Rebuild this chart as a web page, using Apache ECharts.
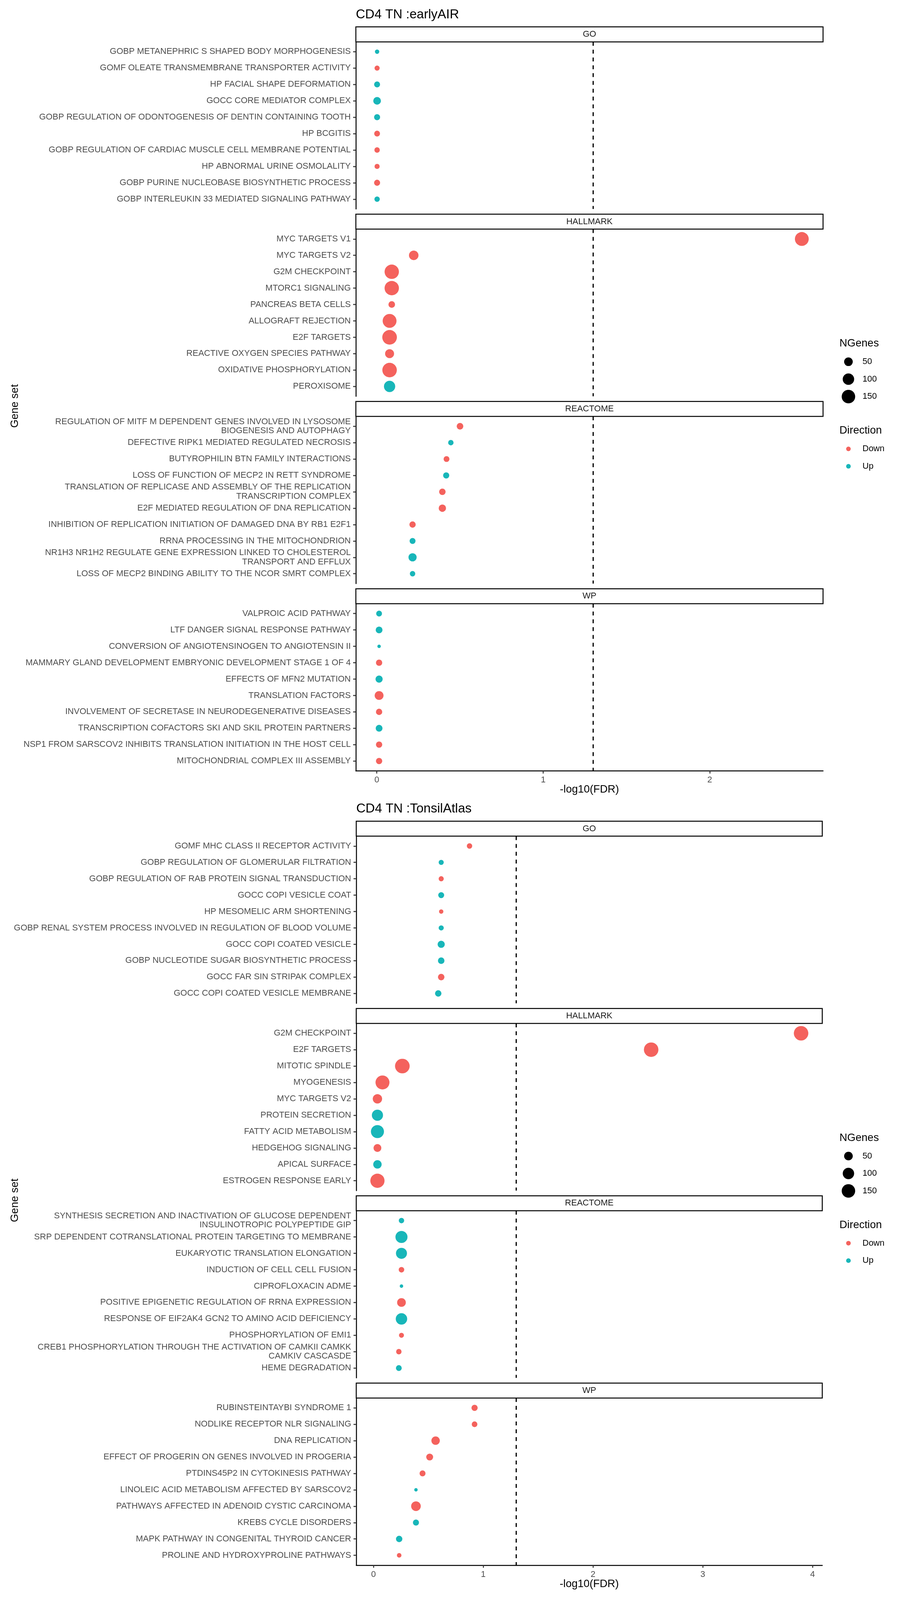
<!DOCTYPE html>
<html>
<head>
<meta charset="utf-8">
<script src="https://cdn.jsdelivr.net/npm/echarts@6/dist/echarts.min.js"></script>
<style>html,body{margin:0;padding:0;background:#fff;overflow:hidden}#c{width:100vw;height:100vh}</style>
</head>
<body>
<div id="c"></div>
<script>
// ---------------- DATA ----------------
const earlyTitle = 'CD4 TN :earlyAIR';
const tonsilTitle = 'CD4 TN :TonsilAtlas';
const panelNames = ['GO', 'HALLMARK', 'REACTOME', 'WP'];
const earlyTicks = [0, 1, 2];
const tonsilTicks = [0, 1, 2, 3, 4];
const sizeBreaks = [50, 100, 150];
const directions = ['Down', 'Up'];
const thresholdX = 1.30103; // -log10(0.05)

// earlyAIR - GO
const earlyGO_sets = ['GOBP METANEPHRIC S SHAPED BODY MORPHOGENESIS','GOMF OLEATE TRANSMEMBRANE TRANSPORTER ACTIVITY','HP FACIAL SHAPE DEFORMATION','GOCC CORE MEDIATOR COMPLEX','GOBP REGULATION OF ODONTOGENESIS OF DENTIN CONTAINING TOOTH','HP BCGITIS','GOBP REGULATION OF CARDIAC MUSCLE CELL MEMBRANE POTENTIAL','HP ABNORMAL URINE OSMOLALITY','GOBP PURINE NUCLEOBASE BIOSYNTHETIC PROCESS','GOBP INTERLEUKIN 33 MEDIATED SIGNALING PATHWAY'];
const earlyGO_fdr = [0.002,0.002,0.002,0.002,0.002,0.002,0.002,0.002,0.002,0.002];
const earlyGO_n = [9,13,19,37,20,18,15,13,20,15];
const earlyGO_dir = ['Up','Down','Up','Up','Up','Down','Down','Down','Down','Up'];
// earlyAIR - HALLMARK
const earlyHM_sets = ['MYC TARGETS V1','MYC TARGETS V2','G2M CHECKPOINT','MTORC1 SIGNALING','PANCREAS BETA CELLS','ALLOGRAFT REJECTION','E2F TARGETS','REACTIVE OXYGEN SPECIES PATHWAY','OXIDATIVE PHOSPHORYLATION','PEROXISOME'];
const earlyHM_fdr = [2.553,0.222,0.090,0.090,0.090,0.077,0.077,0.077,0.077,0.077];
const earlyHM_n = [160,64,174,174,25,160,182,55,178,97];
const earlyHM_dir = ['Down','Down','Down','Down','Down','Down','Down','Down','Down','Up'];
// earlyAIR - REACTOME
const earlyRE_sets = ['REGULATION OF MITF M DEPENDENT GENES INVOLVED IN LYSOSOME\nBIOGENESIS AND AUTOPHAGY','DEFECTIVE RIPK1 MEDIATED REGULATED NECROSIS','BUTYROPHILIN BTN FAMILY INTERACTIONS','LOSS OF FUNCTION OF MECP2 IN RETT SYNDROME','TRANSLATION OF REPLICASE AND ASSEMBLY OF THE REPLICATION\nTRANSCRIPTION COMPLEX','E2F MEDIATED REGULATION OF DNA REPLICATION','INHIBITION OF REPLICATION INITIATION OF DAMAGED DNA BY RB1 E2F1','RRNA PROCESSING IN THE MITOCHONDRION','NR1H3 NR1H2 REGULATE GENE EXPRESSION LINKED TO CHOLESTEROL\nTRANSPORT AND EFFLUX','LOSS OF MECP2 BINDING ABILITY TO THE NCOR SMRT COMPLEX'];
const earlyRE_fdr = [0.500,0.445,0.419,0.417,0.394,0.394,0.215,0.215,0.215,0.215];
const earlyRE_n = [25,15,18,21,24,33,22,19,44,15];
const earlyRE_dir = ['Down','Up','Down','Up','Down','Down','Down','Up','Up','Up'];
// earlyAIR - WP
const earlyWP_sets = ['VALPROIC ACID PATHWAY','LTF DANGER SIGNAL RESPONSE PATHWAY','CONVERSION OF ANGIOTENSINOGEN TO ANGIOTENSIN II','MAMMARY GLAND DEVELOPMENT EMBRYONIC DEVELOPMENT STAGE 1 OF 4','EFFECTS OF MFN2 MUTATION','TRANSLATION FACTORS','INVOLVEMENT OF SECRETASE IN NEURODEGENERATIVE DISEASES','TRANSCRIPTION COFACTORS SKI AND SKIL PROTEIN PARTNERS','NSP1 FROM SARSCOV2 INHIBITS TRANSLATION INITIATION IN THE HOST CELL','MITOCHONDRIAL COMPLEX III ASSEMBLY'];
const earlyWP_fdr = [0.014,0.014,0.014,0.014,0.014,0.014,0.014,0.014,0.014,0.014];
const earlyWP_n = [18,27,6,22,31,53,22,27,22,22];
const earlyWP_dir = ['Up','Up','Up','Down','Up','Down','Down','Up','Down','Down'];

// TonsilAtlas - GO
const tonsilGO_sets = ['GOMF MHC CLASS II RECEPTOR ACTIVITY','GOBP REGULATION OF GLOMERULAR FILTRATION','GOBP REGULATION OF RAB PROTEIN SIGNAL TRANSDUCTION','GOCC COPI VESICLE COAT','HP MESOMELIC ARM SHORTENING','GOBP RENAL SYSTEM PROCESS INVOLVED IN REGULATION OF BLOOD VOLUME','GOCC COPI COATED VESICLE','GOBP NUCLEOTIDE SUGAR BIOSYNTHETIC PROCESS','GOCC FAR SIN STRIPAK COMPLEX','GOCC COPI COATED VESICLE MEMBRANE'];
const tonsilGO_fdr = [0.875,0.617,0.617,0.617,0.617,0.617,0.617,0.617,0.617,0.590];
const tonsilGO_n = [15,13,13,19,9,13,31,24,24,23];
const tonsilGO_dir = ['Down','Up','Down','Up','Down','Up','Up','Up','Down','Up'];
// TonsilAtlas - HALLMARK
const tonsilHM_sets = ['G2M CHECKPOINT','E2F TARGETS','MITOTIC SPINDLE','MYOGENESIS','MYC TARGETS V2','PROTEIN SECRETION','FATTY ACID METABOLISM','HEDGEHOG SIGNALING','APICAL SURFACE','ESTROGEN RESPONSE EARLY'];
const tonsilHM_fdr = [3.896,2.53,0.263,0.082,0.036,0.036,0.036,0.036,0.036,0.036];
const tonsilHM_n = [178,178,182,163,61,95,139,39,47,170];
const tonsilHM_dir = ['Down','Down','Down','Down','Down','Up','Up','Down','Up','Down'];
// TonsilAtlas - REACTOME
const tonsilRE_sets = ['SYNTHESIS SECRETION AND INACTIVATION OF GLUCOSE DEPENDENT\nINSULINOTROPIC POLYPEPTIDE GIP','SRP DEPENDENT COTRANSLATIONAL PROTEIN TARGETING TO MEMBRANE','EUKARYOTIC TRANSLATION ELONGATION','INDUCTION OF CELL CELL FUSION','CIPROFLOXACIN ADME','POSITIVE EPIGENETIC REGULATION OF RRNA EXPRESSION','RESPONSE OF EIF2AK4 GCN2 TO AMINO ACID DEFICIENCY','PHOSPHORYLATION OF EMI1','CREB1 PHOSPHORYLATION THROUGH THE ACTIVATION OF CAMKII CAMKK\nCAMKIV CASCASDE','HEME DEGRADATION'];
const tonsilRE_fdr = [0.255,0.255,0.255,0.255,0.255,0.255,0.255,0.255,0.231,0.231];
const tonsilRE_n = [15,114,92,16,6,51,101,12,15,18];
const tonsilRE_dir = ['Up','Up','Up','Down','Up','Down','Up','Down','Down','Up'];
// TonsilAtlas - WP
const tonsilWP_sets = ['RUBINSTEINTAYBI SYNDROME 1','NODLIKE RECEPTOR NLR SIGNALING','DNA REPLICATION','EFFECT OF PROGERIN ON GENES INVOLVED IN PROGERIA','PTDINS45P2 IN CYTOKINESIS PATHWAY','LINOLEIC ACID METABOLISM AFFECTED BY SARSCOV2','PATHWAYS AFFECTED IN ADENOID CYSTIC CARCINOMA','KREBS CYCLE DISORDERS','MAPK PATHWAY IN CONGENITAL THYROID CANCER','PROLINE AND HYDROXYPROLINE PATHWAYS'];
const tonsilWP_fdr = [0.921,0.921,0.566,0.512,0.447,0.387,0.387,0.387,0.234,0.234];
const tonsilWP_n = [21,17,47,28,19,6,66,20,23,10];
const tonsilWP_dir = ['Down','Down','Down','Down','Down','Up','Down','Up','Up','Down'];

// ---------------- STYLE / LAYOUT ----------------
const FONT = '"Liberation Sans", Arial, Helvetica, sans-serif';
const COLORS = { Down: '#F4625D', Up: '#18B6B9' };

// fit the 2304x4224 design into the actual viewport
const VW = (window.innerWidth > 100 ? window.innerWidth : 2304);
const VH = (window.innerHeight > 100 ? window.innerHeight : 4224);
const SX = VW / 2304, SY = VH / 4224, SS = (SX + SY) / 2;
const X = v => v * SX, Y = v => v * SY, F = v => v * SX;
const sizeFn = n => SS * 6.6 * (1 + 5 * Math.sqrt(Math.max(0, n - 5) / 195));

const charts = [
  { title: earlyTitle, off: 0, left: 911, right: 2107, ticks: earlyTicks,
    panels: [
      { sets: earlyGO_sets, fdr: earlyGO_fdr, n: earlyGO_n, dir: earlyGO_dir },
      { sets: earlyHM_sets, fdr: earlyHM_fdr, n: earlyHM_n, dir: earlyHM_dir },
      { sets: earlyRE_sets, fdr: earlyRE_fdr, n: earlyRE_n, dir: earlyRE_dir },
      { sets: earlyWP_sets, fdr: earlyWP_fdr, n: earlyWP_n, dir: earlyWP_dir }
    ] },
  { title: tonsilTitle, off: 2097, left: 912, right: 2105, ticks: tonsilTicks,
    panels: [
      { sets: tonsilGO_sets, fdr: tonsilGO_fdr, n: tonsilGO_n, dir: tonsilGO_dir },
      { sets: tonsilHM_sets, fdr: tonsilHM_fdr, n: tonsilHM_n, dir: tonsilHM_dir },
      { sets: tonsilRE_sets, fdr: tonsilRE_fdr, n: tonsilRE_n, dir: tonsilRE_dir },
      { sets: tonsilWP_sets, fdr: tonsilWP_fdr, n: tonsilWP_n, dir: tonsilWP_dir }
    ] }
];

const STRIP_TOP = 71, STRIP_H = 39.5, PANEL_H = 441.2, PANEL_GAP = 13.75;
const grids = [], xAxes = [], yAxes = [], series = [], graphics = [];

charts.forEach(ch => {
  const off = ch.off;
  const allF = ch.panels.flatMap(p => p.fdr);
  const lo = Math.min(...allF), hi = Math.max(...allF), R = hi - lo;
  const xmin = lo - 0.05 * R, xmax = hi + 0.05 * R;
  const W = ch.right - ch.left;

  ch.panels.forEach((p, pi) => {
    const gi = grids.length;
    const stripTop = off + STRIP_TOP + pi * (STRIP_H + PANEL_H + PANEL_GAP);
    const gridTop = stripTop + STRIP_H;
    const last = pi === ch.panels.length - 1;
    const idx = p.sets.map((_, i) => i + 1);

    grids.push({ left: X(ch.left), top: Y(gridTop), width: X(W), height: Y(PANEL_H), containLabel: false });

    xAxes.push({
      gridIndex: gi, type: 'value', min: xmin, max: xmax, show: last,
      axisLine: { show: true, onZero: false, lineStyle: { color: '#000', width: 2.5 } },
      axisTick: { show: true, length: Y(7), customValues: ch.ticks, lineStyle: { color: '#333', width: 2.5 } },
      axisLabel: { customValues: ch.ticks, fontSize: F(22), color: '#4D4D4D', margin: Y(13), fontFamily: FONT },
      splitLine: { show: false }
    });

    yAxes.push({
      gridIndex: gi, type: 'value', min: 0.4, max: 10.6, inverse: true,
      axisLine: { show: true, onZero: false, lineStyle: { color: '#000', width: 2.5 } },
      axisTick: { show: true, length: X(7), customValues: idx, lineStyle: { color: '#333', width: 2.5 } },
      axisLabel: { customValues: idx, formatter: v => p.sets[Math.round(v) - 1] || '', fontSize: F(22),
                   lineHeight: Y(24), color: '#4D4D4D', margin: X(13), fontFamily: FONT, align: 'right' },
      splitLine: { show: false }
    });

    directions.forEach(d => {
      const s = {
        type: 'scatter', name: d, xAxisIndex: gi, yAxisIndex: gi,
        data: p.fdr.map((v, i) => p.dir[i] === d ? [v, i + 1, p.n[i]] : null).filter(Boolean),
        symbol: 'circle', symbolSize: v => sizeFn(v[2]),
        itemStyle: { color: COLORS[d], opacity: 1 },
        silent: true, animation: false, z: 3
      };
      if (d === 'Down') {
        s.markLine = {
          silent: true, symbol: ['none', 'none'], label: { show: false }, animation: false,
          lineStyle: { type: [10, 10], color: '#000', width: 3, opacity: 1 },
          emphasis: { disabled: true },
          data: [{ xAxis: thresholdX }]
        };
      }
      series.push(s);
    });

    // facet strip
    graphics.push({ type: 'rect', shape: { x: X(ch.left), y: Y(stripTop), width: X(W), height: Y(STRIP_H) },
      style: { fill: '#fff', stroke: '#000', lineWidth: 2.5 }, silent: true, z: 10 });
    graphics.push({ type: 'text', x: X(ch.left + W / 2), y: Y(stripTop + STRIP_H / 2), silent: true, z: 11,
      style: { text: panelNames[pi], fontSize: F(22), fontFamily: FONT, fill: '#1A1A1A',
               textAlign: 'center', textVerticalAlign: 'middle' } });
  });

  // title
  graphics.push({ type: 'text', x: X(ch.left), y: Y(off + 39), silent: true,
    style: { text: ch.title, fontSize: F(33), fontFamily: FONT, fill: '#000', textAlign: 'left', textVerticalAlign: 'middle' } });
  // axis titles
  graphics.push({ type: 'text', x: X(ch.left + W / 2), y: Y(off + 2085), silent: true,
    style: { text: '-log10(FDR)', fontSize: F(27.5), fontFamily: FONT, fill: '#000', textAlign: 'center', textVerticalAlign: 'middle' } });
  graphics.push({ type: 'text', x: X(38), y: Y(off + 1072), rotation: Math.PI / 2, silent: true,
    style: { text: 'Gene set', fontSize: F(27.5), fontFamily: FONT, fill: '#000', textAlign: 'center', textVerticalAlign: 'middle' } });

  // legends
  const LX = 2149, KX = 2172, TX = 2208;
  graphics.push({ type: 'text', x: X(LX), y: Y(off + 907), silent: true,
    style: { text: 'NGenes', fontSize: F(27.5), fontFamily: FONT, fill: '#000', textAlign: 'left', textVerticalAlign: 'middle' } });
  sizeBreaks.forEach((b, i) => {
    const y = off + 955 + i * 46;
    graphics.push({ type: 'circle', shape: { cx: X(KX), cy: Y(y), r: sizeFn(b) / 2 }, style: { fill: '#000' }, silent: true });
    graphics.push({ type: 'text', x: X(TX), y: Y(y), silent: true,
      style: { text: String(b), fontSize: F(22), fontFamily: FONT, fill: '#000', textAlign: 'left', textVerticalAlign: 'middle' } });
  });
  graphics.push({ type: 'text', x: X(LX), y: Y(off + 1137), silent: true,
    style: { text: 'Direction', fontSize: F(27.5), fontFamily: FONT, fill: '#000', textAlign: 'left', textVerticalAlign: 'middle' } });
  directions.forEach((d, i) => {
    const y = off + 1185 + i * 46;
    graphics.push({ type: 'circle', shape: { cx: X(KX), cy: Y(y), r: 6 * SS }, style: { fill: COLORS[d] }, silent: true });
    graphics.push({ type: 'text', x: X(TX), y: Y(y), silent: true,
      style: { text: d, fontSize: F(22), fontFamily: FONT, fill: '#000', textAlign: 'left', textVerticalAlign: 'middle' } });
  });
});

const chart = echarts.init(document.getElementById('c'), null, { width: VW, height: VH });
chart.setOption({
  backgroundColor: '#ffffff',
  animation: false,
  textStyle: { fontFamily: FONT },
  grid: grids,
  xAxis: xAxes,
  yAxis: yAxes,
  series: series,
  graphic: { elements: graphics }
});
</script>
</body>
</html>
